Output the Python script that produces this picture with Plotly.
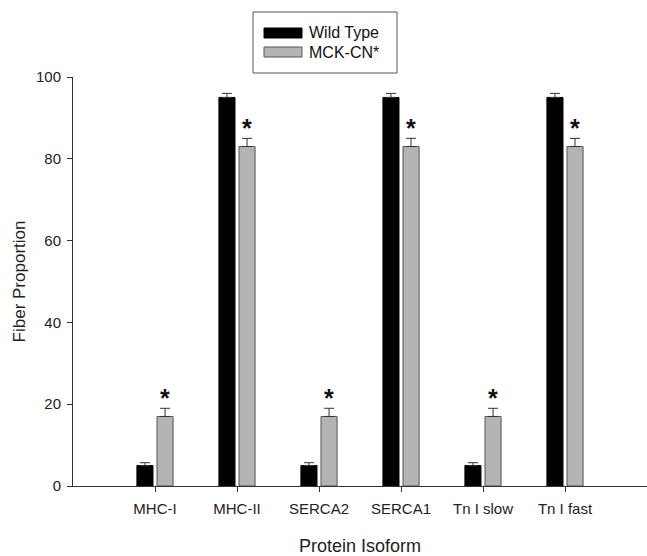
import plotly.graph_objects as go

categories = ["MHC-I", "MHC-II", "SERCA2", "SERCA1", "Tn I slow", "Tn I fast"]
wild_type = [5, 95, 5, 95, 5, 95]
wild_type_err = [0.7, 1.0, 0.7, 1.0, 0.7, 1.0]
mck_cn = [17, 83, 17, 83, 17, 83]
mck_cn_err = [2.0, 2.0, 2.0, 2.0, 2.0, 2.0]
significant = [True, True, True, True, True, True]
y_ticks = [0, 20, 40, 60, 80, 100]

FONT = "Liberation Sans, Arial, sans-serif"
GRAY = "#b4b4b4"
EDGE = "#333333"

fig = go.Figure()
fig.add_trace(go.Bar(
    x=categories, y=wild_type, name="Wild Type",
    marker=dict(color="#000000", line=dict(color="#000000", width=1)),
    error_y=dict(type="data", symmetric=False, array=wild_type_err,
                 arrayminus=[0] * len(wild_type_err),
                 color=EDGE, thickness=1, width=5),
))
fig.add_trace(go.Bar(
    x=categories, y=mck_cn, name="MCK-CN*",
    marker=dict(color=GRAY, line=dict(color="#555555", width=1)),
    error_y=dict(type="data", symmetric=False, array=mck_cn_err,
                 arrayminus=[0] * len(mck_cn_err),
                 color=EDGE, thickness=1, width=5),
))

annotations = []
for i, (cat, v, e, s) in enumerate(zip(categories, mck_cn, mck_cn_err, significant)):
    if s:
        annotations.append(dict(
            x=i, xshift=10, y=v + e + 2.6, xref="x", yref="y",
            text="<b>*</b>", showarrow=False, yanchor="middle",
            font=dict(family=FONT, size=25, color="#111111"),
        ))

fig.update_layout(
    width=647, height=556,
    margin=dict(l=73, r=0, t=77, b=70),
    paper_bgcolor="white", plot_bgcolor="white",
    barmode="group", bargap=0.51, bargroupgap=0.2,
    showlegend=False,
    font=dict(family=FONT, size=15, color="#222222"),
    xaxis=dict(
        type="category", range=[-1.0, 6.0], automargin=False,
        showline=True, linecolor=EDGE, linewidth=1,
        ticks="outside", ticklen=5, tickcolor=EDGE,
        showgrid=False, zeroline=False,
        tickfont=dict(size=15), ticklabelstandoff=4,
        title=dict(text="Protein Isoform", font=dict(size=18), standoff=30),
    ),
    yaxis=dict(
        range=[0, 100], tickvals=y_ticks, automargin=False,
        showline=True, linecolor=EDGE, linewidth=1,
        ticks="outside", ticklen=5, tickcolor=EDGE,
        showgrid=False, zeroline=False,
        tickfont=dict(size=15), ticklabelstandoff=3,
        title=dict(text="Fiber Proportion", font=dict(size=17), standoff=6),
    ),
)

# legend (box + wide swatches + labels), pixel layout mapped onto paper coords
PL, PW, PB, PH = 73, 574, 486, 409
def to_px(x):
    return (x - PL) / PW
def to_py(y):
    return (PB - y) / PH

fig.add_shape(type="rect", xref="paper", yref="paper",
              x0=to_px(253), x1=to_px(397), y0=to_py(73), y1=to_py(12),
              line=dict(color="#555555", width=1), fillcolor="white")
legend_items = [("Wild Type", "#000000", "#000000", 28, 38),
                ("MCK-CN*", GRAY, "#555555", 47, 57)]
for label, fill, edge, sy0, sy1 in legend_items:
    fig.add_shape(type="rect", xref="paper", yref="paper",
                  x0=to_px(264), x1=to_px(302), y0=to_py(sy1), y1=to_py(sy0),
                  line=dict(color=edge, width=1), fillcolor=fill)
    annotations.append(dict(
        xref="paper", yref="paper", x=to_px(307), y=to_py((sy0 + sy1) / 2),
        text=label, showarrow=False, xanchor="left", yanchor="middle",
        font=dict(family=FONT, size=16, color="#111111"),
    ))

fig.update_layout(annotations=annotations)
fig.write_html(
    "out.html",
    config={"displayModeBar": False},
    post_script="document.body.style.margin='0';document.body.style.overflow='hidden';",
)
